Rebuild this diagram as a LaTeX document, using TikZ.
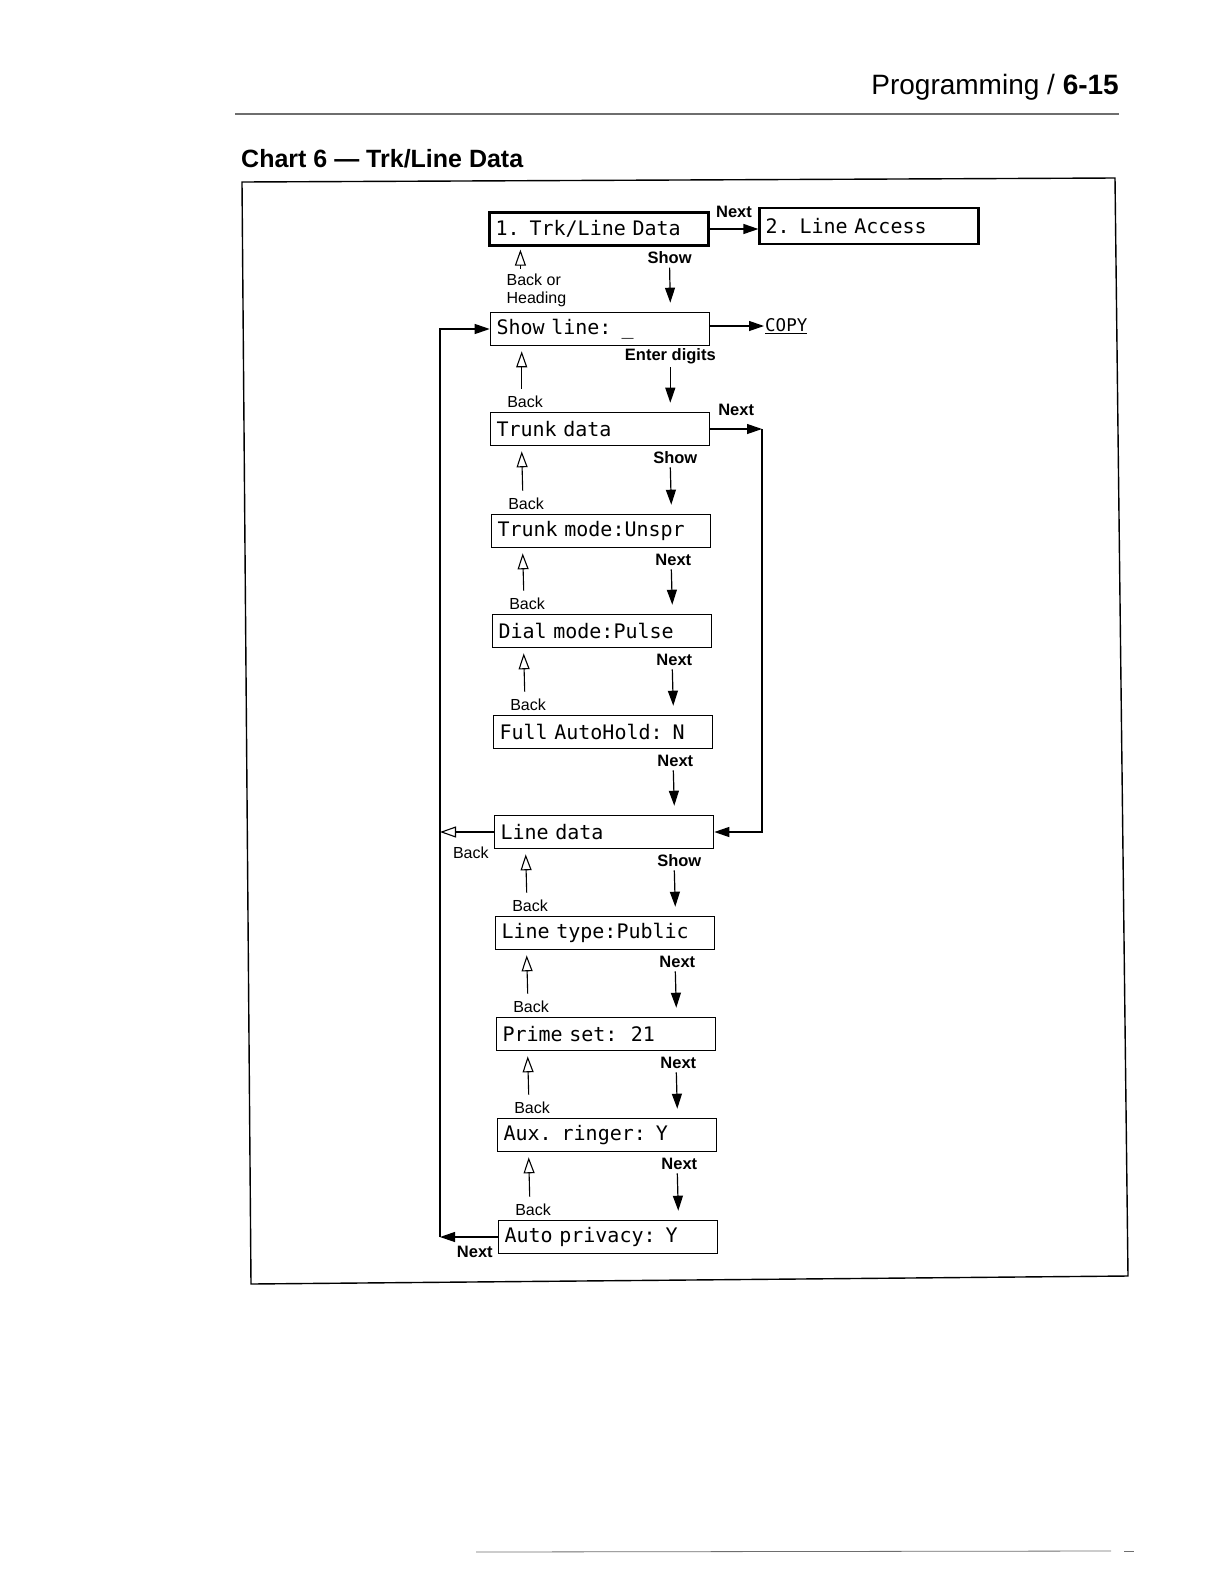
\documentclass[tikz,border=0pt]{standalone}
\usepackage{fontspec}
\setmainfont{Liberation Sans}
\newfontfamily\lcdfont{DejaVu Sans Mono}
\usetikzlibrary{arrows.meta, positioning, calc}
\definecolor{rulegray}{RGB}{110,110,110}

\begin{document}
\begin{tikzpicture}[
    x=1pt, y=-1pt,
    screen/.style={rectangle, draw=black, line width=1.6pt, fill=white,
                   minimum height=33pt, text width=207pt, inner xsep=6pt,
                   align=left, font=\lcdfont\fontsize{20}{22}\selectfont},
    lbl/.style={inner sep=1pt, font=\fontsize{16}{18}\selectfont},
    keylbl/.style={lbl, font=\fontsize{16.5}{18}\selectfont\bfseries},
    nextarr/.style={-{Triangle[length=15pt, width=10pt]}, line width=1.2pt},
    backarr/.style={-{Triangle[open, length=16pt, width=11pt]}, line width=1.1pt}
]
\useasboundingbox (0,0) rectangle (1214,1583);
%% page header and frame
\node[anchor=south east, inner sep=0pt, font=\fontsize{28}{30}\selectfont] (pagehead) at (1119,101)
    {Programming / \textbf{6-15}};
\draw[rulegray, line width=1.4pt] (235,114) -- (1119,114);
\node[anchor=south west, inner sep=0pt, font=\fontsize{25}{28}\selectfont\bfseries] (charttitle) at (241,168)
    {Chart 6 --- Trk/Line Data};
\draw[line width=1.4pt] (242,182) -- (1115,178) -- (1128,1276) -- (251,1284) -- cycle;
\draw[rulegray, line width=0.8pt] (476,1552) -- (1111,1551);
\draw[rulegray, line width=0.8pt] (1124,1551) -- (1134,1551);

%% screens
\node[screen, line width=2.2pt] (trkline) at (599,229) {1. Trk/Line Data};
\node[screen, line width=2.2pt, minimum height=36pt] (lineacc) at (869,226) {2. Line Access};
\node[screen] (showline) at (600,329) {Show line: \_};
\node[anchor=west, inner sep=1pt, font=\lcdfont\fontsize{17.5}{20}\selectfont] (copy) at (764,326)
    {\underline{COPY}};
\node[screen] (trunk) at (600,429) {Trunk data};
\node[screen] (trunkmode) at (601,531) {Trunk mode:Unspr};
\node[screen] (dialmode) at (602,631) {Dial mode:Pulse};
\node[screen] (autohold) at (603,732) {Full AutoHold: N};
\node[screen] (linedata) at (604,832) {Line data};
\node[screen] (linetype) at (605,933) {Line type:Public};
\node[screen] (primeset) at (606,1034) {Prime set:~~21};
\node[screen] (auxring) at (607,1135) {Aux. ringer: Y};
\node[screen] (autopriv) at (608,1237) {Auto privacy: Y};

\coordinate (loopL) at (440,1237);
\coordinate (loopR) at (762,429);

%% Next / Show / Enter digits (down the right side)
\draw[nextarr] (trkline.east) -- node[keylbl, above=10pt] {Next} (trkline.east -| lineacc.west);
\draw[nextarr] (showline.east |- copy.west) -- (copy.west);
\draw[nextarr] ([shift={(-40,21)}]trkline.south east) -- ([shift={(-40,-9)}]showline.north east)
    node[keylbl, pos=0, above=2pt] {Show};
\draw[nextarr] ([shift={(-40,21)}]showline.south east) -- ([shift={(-40,-9)}]trunk.north east)
    node[keylbl, pos=0, above=2pt] {Enter digits};
\draw[nextarr] ([shift={(-40,21)}]trunk.south east) -- ([shift={(-40,-9)}]trunkmode.north east)
    node[keylbl, pos=0, above=2pt, xshift=5pt] {Show};
\draw[nextarr] ([shift={(-40,21)}]trunkmode.south east) -- ([shift={(-40,-9)}]dialmode.north east)
    node[keylbl, pos=0, above=2pt, xshift=2pt] {Next};
\draw[nextarr] ([shift={(-40,21)}]dialmode.south east) -- ([shift={(-40,-9)}]autohold.north east)
    node[keylbl, pos=0, above=2pt, xshift=2pt] {Next};
\draw[nextarr] ([shift={(-40,21)}]autohold.south east) -- ([shift={(-40,-9)}]linedata.north east)
    node[keylbl, pos=0, above=2pt, xshift=2pt] {Next};
\draw[nextarr] ([shift={(-40,21)}]linedata.south east) -- ([shift={(-40,-9)}]linetype.north east)
    node[keylbl, pos=0, above=2pt, xshift=5pt] {Show};
\draw[nextarr] ([shift={(-40,21)}]linetype.south east) -- ([shift={(-40,-9)}]primeset.north east)
    node[keylbl, pos=0, above=2pt, xshift=2pt] {Next};
\draw[nextarr] ([shift={(-40,21)}]primeset.south east) -- ([shift={(-40,-9)}]auxring.north east)
    node[keylbl, pos=0, above=2pt, xshift=2pt] {Next};
\draw[nextarr] ([shift={(-40,21)}]auxring.south east) -- ([shift={(-40,-9)}]autopriv.north east)
    node[keylbl, pos=0, above=2pt, xshift=2pt] {Next};

%% Back (up the left side)
\draw[backarr] ([shift={(32,22)}]trkline.south west) -- ([shift={(32,3)}]trkline.south west);
\node[lbl, anchor=north west, align=left] (backhead) at ([shift={(17,26)}]trkline.south west)
    {Back or\\Heading};
\draw[backarr] ([shift={(32,-23)}]trunk.north west) -- ([shift={(32,5)}]showline.south west)
    node[lbl, pos=0, anchor=north west, xshift=-16pt, yshift=-6pt] {Back};
\draw[backarr] ([shift={(32,-23)}]trunkmode.north west) -- ([shift={(32,5)}]trunk.south west)
    node[lbl, pos=0, anchor=north west, xshift=-16pt, yshift=-6pt] {Back};
\draw[backarr] ([shift={(32,-23)}]dialmode.north west) -- ([shift={(32,5)}]trunkmode.south west)
    node[lbl, pos=0, anchor=north west, xshift=-16pt, yshift=-6pt] {Back};
\draw[backarr] ([shift={(32,-23)}]autohold.north west) -- ([shift={(32,5)}]dialmode.south west)
    node[lbl, pos=0, anchor=north west, xshift=-16pt, yshift=-6pt] {Back};
\draw[backarr] ([shift={(32,-23)}]linetype.north west) -- ([shift={(32,5)}]linedata.south west)
    node[lbl, pos=0, anchor=north west, xshift=-16pt, yshift=-6pt] {Back};
\draw[backarr] ([shift={(32,-23)}]primeset.north west) -- ([shift={(32,5)}]linetype.south west)
    node[lbl, pos=0, anchor=north west, xshift=-16pt, yshift=-6pt] {Back};
\draw[backarr] ([shift={(32,-23)}]auxring.north west) -- ([shift={(32,5)}]primeset.south west)
    node[lbl, pos=0, anchor=north west, xshift=-16pt, yshift=-6pt] {Back};
\draw[backarr] ([shift={(32,-23)}]autopriv.north west) -- ([shift={(32,5)}]auxring.south west)
    node[lbl, pos=0, anchor=north west, xshift=-16pt, yshift=-6pt] {Back};

%% loops
\draw[nextarr] (trunk.east) -- node[keylbl, above=12pt] {Next} (loopR);
\draw[nextarr] (loopR) |- (linedata.east);
\draw[nextarr] (autopriv.west) -- node[keylbl, below=8pt, xshift=6pt] {Next} (loopL);
\draw[nextarr] (loopL) |- (showline.west);
\draw[backarr] (linedata.west) -- node[lbl, below=13pt, xshift=4pt] {Back} (linedata.west -| loopL);
\end{tikzpicture}
\end{document}
